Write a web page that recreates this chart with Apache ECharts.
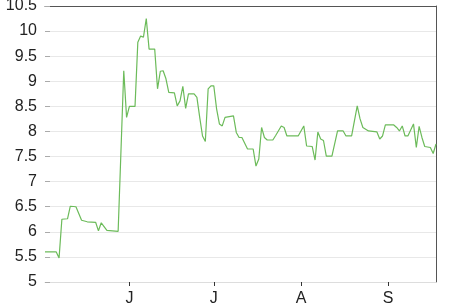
<!DOCTYPE html>
<html>
<head>
<meta charset="utf-8">
<script src="https://cdn.jsdelivr.net/npm/echarts@6/dist/echarts.min.js"></script>
<style>html,body{margin:0;padding:0;background:#fff}#c{width:450px;height:306px}</style>
</head>
<body>
<div id="c"></div>
<script>
var dates = ['2019-05-02','2019-05-06','2019-05-07','2019-05-08','2019-05-10','2019-05-11','2019-05-13','2019-05-15','2019-05-17','2019-05-20','2019-05-21','2019-05-22','2019-05-24','2019-05-28','2019-05-29','2019-05-30','2019-05-31',
'2019-06-01','2019-06-03','2019-06-04','2019-06-05','2019-06-06','2019-06-07','2019-06-08','2019-06-10','2019-06-11','2019-06-12','2019-06-13','2019-06-14','2019-06-15','2019-06-17','2019-06-18','2019-06-19','2019-06-20','2019-06-21','2019-06-22','2019-06-24','2019-06-25','2019-06-26','2019-06-27','2019-06-28','2019-06-29','2019-06-30',
'2019-07-01','2019-07-02','2019-07-03','2019-07-04','2019-07-05','2019-07-08','2019-07-09','2019-07-10','2019-07-11','2019-07-13','2019-07-15','2019-07-16','2019-07-17','2019-07-18','2019-07-19','2019-07-20','2019-07-22','2019-07-23','2019-07-25','2019-07-26','2019-07-27','2019-07-31',
'2019-08-02','2019-08-03','2019-08-05','2019-08-06','2019-08-07','2019-08-08','2019-08-09','2019-08-10','2019-08-12','2019-08-14','2019-08-16','2019-08-17','2019-08-19','2019-08-21','2019-08-22','2019-08-23','2019-08-25','2019-08-28','2019-08-29','2019-08-30','2019-08-31',
'2019-09-03','2019-09-04','2019-09-05','2019-09-06','2019-09-07','2019-09-08','2019-09-10','2019-09-11','2019-09-12','2019-09-13','2019-09-14','2019-09-16','2019-09-17','2019-09-18'];
var values = [5.60,5.60,5.48,6.25,6.26,6.51,6.50,6.23,6.20,6.19,6.02,6.18,6.03,6.01,7.60,9.21,8.28,
8.50,8.50,9.78,9.90,9.88,10.25,9.64,9.64,8.85,9.20,9.21,9.05,8.78,8.77,8.51,8.61,8.90,8.46,8.75,8.75,8.68,8.28,7.91,7.80,8.85,8.91,
8.91,8.45,8.15,8.11,8.28,8.31,7.98,7.88,7.88,7.65,7.65,7.31,7.45,8.08,7.88,7.83,7.83,7.92,8.11,8.08,7.91,7.91,
8.11,7.71,7.70,7.43,7.99,7.85,7.82,7.51,7.51,8.01,8.01,7.91,7.91,8.51,8.25,8.08,8.01,7.99,7.85,7.91,8.13,
8.13,8.08,8.01,8.11,7.91,7.91,8.15,7.68,8.10,7.88,7.70,7.68,7.56,7.75];
var monthLetters = ['J','F','M','A','M','J','J','A','S','O','N','D'];
var yMin = 5, yMax = 10.5, yStep = 0.5;

var chart = echarts.init(document.getElementById('c'), null, {renderer: 'canvas'});
var DAY = 86400000;
chart.setOption({
  animation: false,
  grid: {left: 45, right: 14, top: 6, bottom: 24, outerBoundsMode: 'none', containLabel: false},
  xAxis: [{
    type: 'time',
    min: new Date(2019, 4, 2).getTime(),
    max: new Date(2019, 8, 18).getTime(),
    minInterval: 28 * DAY,
    maxInterval: 31 * DAY,
    splitLine: {show: false},
    axisLine: {show: true, lineStyle: {color: '#dddddd', width: 1}},
    axisTick: {show: true, length: 4, lineStyle: {color: '#333333'}},
    axisLabel: {
      show: true, margin: 9, fontSize: 16, color: '#222222', fontFamily: 'Liberation Sans',
      showMinLabel: false, showMaxLabel: false,
      formatter: function (v) { return monthLetters[new Date(v).getMonth()]; }
    }
  }, {
    type: 'value', position: 'top', min: 0, max: 1,
    axisLine: {show: true, onZero: false, lineStyle: {color: '#555555', width: 1}},
    axisTick: {show: false}, axisLabel: {show: false}, splitLine: {show: false}
  }],
  yAxis: [{
    type: 'value', min: yMin, max: yMax, interval: yStep,
    axisLine: {show: false},
    axisTick: {show: true, inside: true, length: 5, lineStyle: {color: '#aaaaaa'}},
    splitLine: {show: true, lineStyle: {color: '#e8e8e8', width: 1}},
    axisLabel: {margin: 8, fontSize: 16, color: '#222222', fontFamily: 'Liberation Sans',
      formatter: function (v) { return String(v); }}
  }, {
    type: 'value', position: 'right', min: yMin, max: yMax,
    axisLine: {show: true, onZero: false, lineStyle: {color: '#555555', width: 1}},
    axisTick: {show: false}, axisLabel: {show: false}, splitLine: {show: false}
  }],
  series: [{
    type: 'line',
    xAxisIndex: 0, yAxisIndex: 0,
    data: dates.map(function (d, i) { return [d, values[i]]; }),
    showSymbol: false,
    symbol: 'none',
    lineStyle: {color: '#6cbb5a', width: 1.2},
    itemStyle: {color: '#6cbb5a'}
  }]
});
</script>
</body>
</html>
